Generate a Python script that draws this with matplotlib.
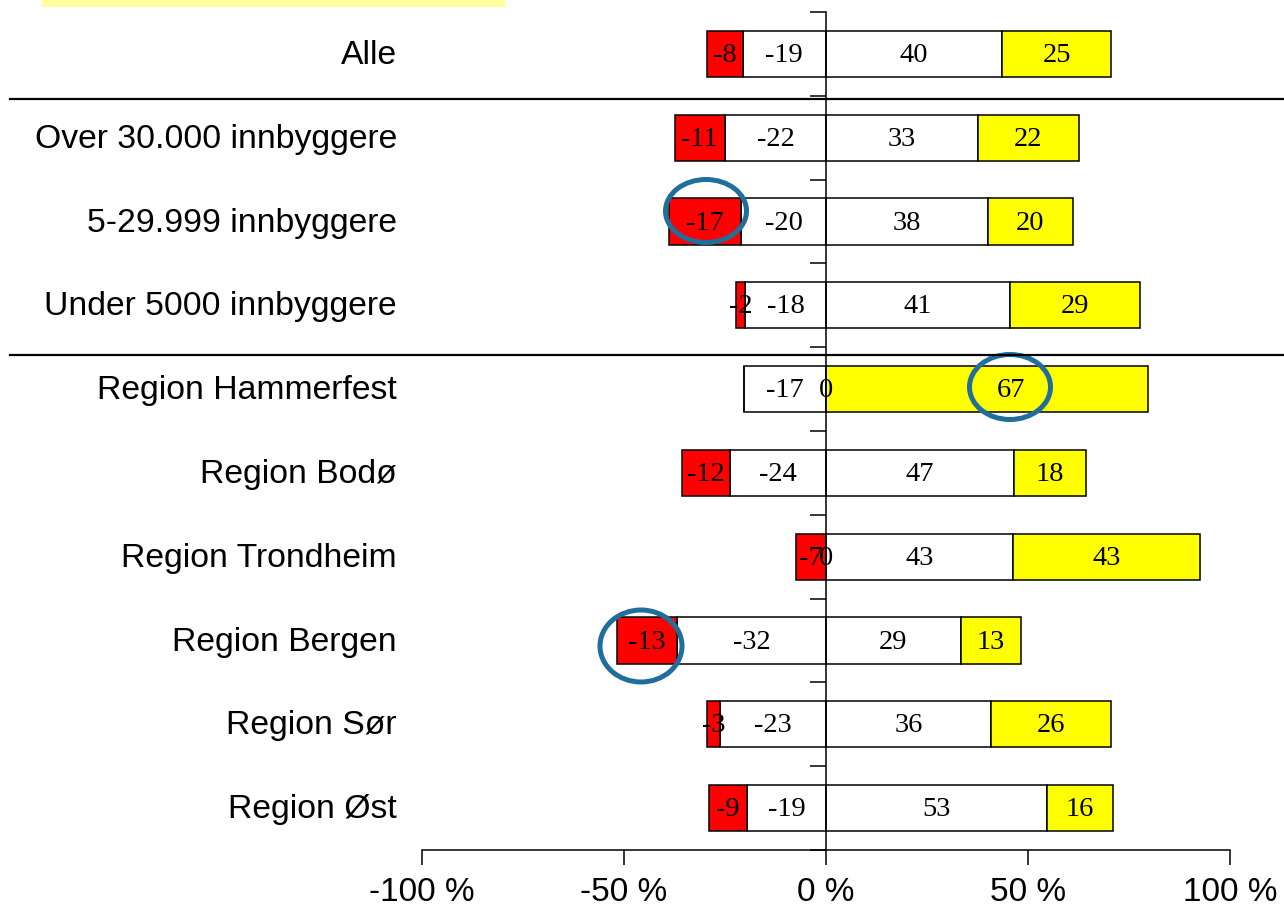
import matplotlib
matplotlib.use("Agg")
import matplotlib.pyplot as plt
from matplotlib.patches import Ellipse, Rectangle
from matplotlib.lines import Line2D
import matplotlib.transforms as mtrans
import numpy as np

categories = ["Alle", "Over 30.000 innbyggere", "5-29.999 innbyggere",
              "Under 5000 innbyggere", "Region Hammerfest", "Region Bodø",
              "Region Trondheim", "Region Bergen", "Region Sør", "Region Øst"]
# raw percentages (labels); bars are normalised to 100 %
red_vals = [8, 11, 17, 2, 0, 12, 7, 13, 3, 9]
white_neg = [19, 22, 20, 18, 17, 24, 0, 32, 23, 19]
white_pos = [40, 33, 38, 41, 0, 47, 43, 29, 36, 53]
yellow_vals = [25, 22, 20, 29, 67, 18, 43, 13, 26, 16]
xticks = [-100, -50, 0, 50, 100]
xticklabels = ["-100 %", "-50 %", "0 %", "50 %", "100 %"]

W, H = 1284, 907
fig = plt.figure(figsize=(W / 100, H / 100), dpi=100)
ax = fig.add_axes([422 / W, (H - 850) / H, (1230 - 422) / W, (850 - 12) / H])

red = np.array(red_vals, float)
wn = np.array(white_neg, float)
wp = np.array(white_pos, float)
yl = np.array(yellow_vals, float)
tot = red + wn + wp + yl
rn, wnn, wpn, yn = red / tot * 100, wn / tot * 100, wp / tot * 100, yl / tot * 100

y = np.arange(len(categories))
h = 0.55
ec = dict(edgecolor="black", linewidth=1.1)
ax.barh(y, -wnn, height=h, left=0, color="white", **ec)
ax.barh(y, -rn, height=h, left=-wnn, color="#FF0000", **ec)
ax.barh(y, wpn, height=h, left=0, color="white", **ec)
ax.barh(y, yn, height=h, left=wpn, color="#FFFF00", **ec)

# label offset (manual label placement in original for Hammerfest yellow)
yellow_label_shift = [0, 0, 0, 0, 6, 0, 0, 0, 0, 0]

tfont = dict(family=["Liberation Serif", "DejaVu Serif"], fontsize=20.5,
             ha="center", va="center")
dy_txt = 0.02
for i in range(len(categories)):
    if red_vals[i] != 0:
        ax.text(-wnn[i] - rn[i] / 2, i + dy_txt, f"-{red_vals[i]}", **tfont)
    ax.text(-wnn[i] / 2, i + dy_txt, f"-{white_neg[i]}" if white_neg[i] else "0", **tfont)
    ax.text(wpn[i] / 2, i + dy_txt, f"{white_pos[i]}", **tfont)
    ax.text(wpn[i] + yn[i] / 2 + yellow_label_shift[i], i + dy_txt, f"{yellow_vals[i]}", **tfont)

ax.set_xlim(-100, 100)
ax.set_ylim(len(categories) - 0.5, -0.5)

for s in ["top", "right"]:
    ax.spines[s].set_visible(False)
ax.spines["left"].set_position(("data", 0))
ax.spines["left"].set_linewidth(1.1)
ax.spines["bottom"].set_linewidth(1.1)
ax.set_yticks(np.arange(-0.5, len(categories), 1.0))
ax.set_yticklabels([])
ax.tick_params(axis="y", direction="out", length=11.5, width=1.1)
ax.set_xticks(xticks)
ax.set_xticklabels(xticklabels, family=["Liberation Sans", "DejaVu Sans"], fontsize=24)
ax.tick_params(axis="x", direction="out", length=10.5, width=1.1, pad=9)

tr = mtrans.blended_transform_factory(fig.transFigure, ax.transData)
for i, c in enumerate(categories):
    ax.text(397 / W, i + 0.02, c, transform=tr, ha="right", va="center",
            family=["Liberation Sans", "DejaVu Sans"], fontsize=24.3)

# separator lines
for py in [99, 355]:
    fig.add_artist(Line2D([10 / W, 1.0], [1 - py / H, 1 - py / H], color="black", linewidth=1.6))

# highlight rectangle top-left
fig.add_artist(Rectangle((42 / W, 1 - 7 / H), (505 - 42) / W, 7 / H,
                         transform=fig.transFigure, facecolor="#FFFF9E", edgecolor="none"))

# circles
def px2data(px, py):
    return (px - 826) / 4.04, (py - 12) / 83.8 - 0.5

for (cx, cy, w, hh) in [(706, 211, 81, 63), (1010, 387, 81, 65), (641, 646, 82, 72)]:
    dx, dy = px2data(cx, cy)
    ax.add_patch(Ellipse((dx, dy), w / 4.04, hh / 83.8, fill=False,
                         edgecolor="#1F6E9C", linewidth=3.6, clip_on=False, zorder=5))

fig.savefig("out.png", dpi=100)
